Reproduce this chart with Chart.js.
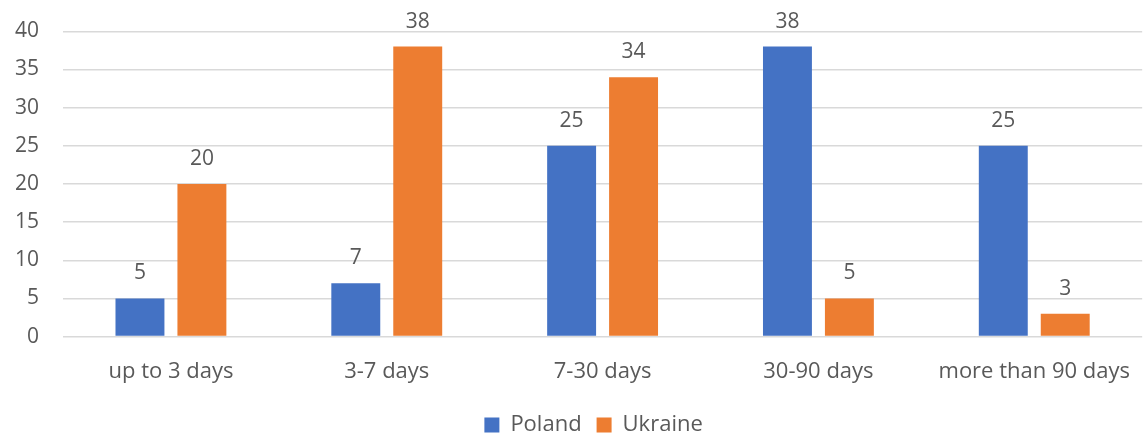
<!DOCTYPE html>
<html>
<head>
<meta charset="utf-8">
<script src="https://cdn.jsdelivr.net/npm/chart.js@4/dist/chart.umd.min.js"></script>
<style>
  html, body { margin: 0; padding: 0; background: #fff; }
  #wrap { width: 1144px; height: 435px; }
</style>
</head>
<body>
<div id="wrap"><canvas id="stayChart"></canvas></div>
<script>
// data
const categories = ['up to 3 days', '3-7 days', '7-30 days', '30-90 days', 'more than 90 days'];
const poland = [5, 7, 25, 38, 25];
const ukraine = [20, 38, 34, 5, 3];
const yTicks = [0, 5, 10, 15, 20, 25, 30, 35, 40];

const textColor = '#595959';
const fontFamily = "'Open Sans', 'Noto Sans', sans-serif";

// value labels above each bar
const barLabels = {
    id: 'barLabels',
    afterLayout(chart) {
        // nudge legend a little left, like the original
        if (chart.legend) {
            chart.legend.left -= 9;
            chart.legend.right -= 9;
        }
    },
    afterDatasetsDraw(chart) {
        const ctx = chart.ctx;
        ctx.save();
        ctx.fillStyle = textColor;
        ctx.font = '21px ' + fontFamily;
        ctx.textAlign = 'center';
        ctx.textBaseline = 'middle';
        chart.data.datasets.forEach(function(ds, i){
            chart.getDatasetMeta(i).data.forEach(function(bar, j){
                ctx.fillText(ds.data[j], bar.x, bar.y - 25);
            });
        });
        ctx.restore();
    }
};

new Chart(document.getElementById('stayChart'), {
    type: 'bar',
    data: {
        labels: categories,
        datasets: [
            {
                label: 'Poland',
                data: poland,
                backgroundColor: '#4472C4',
                categoryPercentage: 0.574,
                barPercentage: 0.79
            },
            {
                label: 'Ukraine',
                data: ukraine,
                backgroundColor: '#ED7D31',
                categoryPercentage: 0.574,
                barPercentage: 0.79
            }
        ]
    },
    options: {
        responsive: true,
        maintainAspectRatio: false,
        animation: false,
        layout: { padding: { top: 10, left: -9, right: 0, bottom: -11 } },
        plugins: {
            legend: {
                position: 'bottom',
                fullSize: false,
                labels: {
                    boxWidth: 15,
                    boxHeight: 15,
                    padding: 15,
                    color: textColor,
                    font: { family: fontFamily, size: 22 }
                }
            },
            tooltip: { enabled: false }
        },
        scales: {
            x: {
                grid: { display: false },
                border: { display: false },
                ticks: {
                    color: textColor,
                    padding: 14,
                    maxRotation: 0,
                    font: { family: fontFamily, size: 22 }
                }
            },
            y: {
                min: 0,
                max: 40,
                afterBuildTicks(axis) {
                    axis.ticks = yTicks.map(v => ({ value: v }));
                },
                grid: { color: '#d9d9d9', lineWidth: 1.5, drawTicks: false },
                border: { display: false },
                ticks: {
                    color: textColor,
                    padding: 24,
                    font: { family: fontFamily, size: 21, lineHeight: 0.7 }
                }
            }
        }
    },
    plugins: [barLabels]
});
</script>
</body>
</html>
